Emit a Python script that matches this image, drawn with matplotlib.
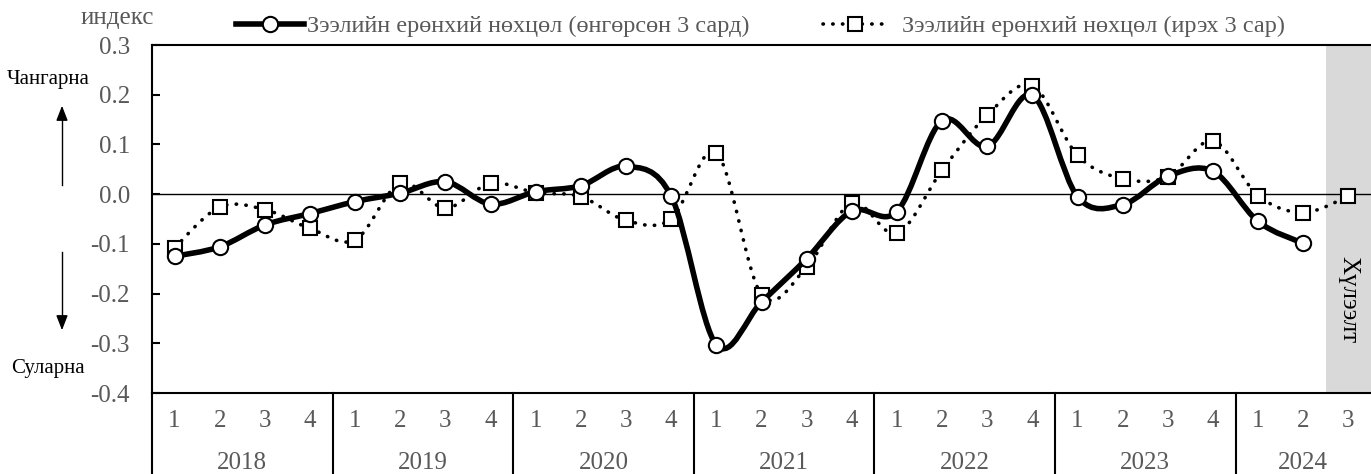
import numpy as np
import matplotlib.pyplot as plt
from matplotlib.path import Path
from matplotlib.patches import PathPatch
from matplotlib.lines import Line2D
import matplotlib.transforms as mtransforms

plt.rcParams['font.family'] = ['Liberation Serif', 'DejaVu Serif']

years = ['2018', '2019', '2020', '2021', '2022', '2023', '2024']
quarters = ['1', '2', '3', '4'] * 6 + ['1', '2', '3']
yticks = [-0.4, -0.3, -0.2, -0.1, 0.0, 0.1, 0.2, 0.3]

past_3m = [-0.125, -0.106, -0.062, -0.039, -0.015, 0.002, 0.025, -0.020,
           0.005, 0.017, 0.056, -0.004, -0.303, -0.217, -0.130, -0.034,
           -0.035, 0.148, 0.096, 0.199, -0.005, -0.021, 0.036, 0.046,
           -0.055, -0.099]
next_3m = [-0.108, -0.026, -0.031, -0.069, -0.092, 0.022, -0.028, 0.022,
           0.003, -0.005, -0.053, -0.050, 0.083, -0.202, -0.147, -0.018,
           -0.079, 0.048, 0.159, 0.218, 0.078, 0.031, 0.035, 0.107,
           -0.003, -0.037, -0.004]

label_past = 'Зээлийн ерөнхий нөхцөл (өнгөрсөн 3 сард)'
label_next = 'Зээлийн ерөнхий нөхцөл (ирэх 3 сар)'
gray = '#595959'
fs = 18


def smooth_path(x, y):
    # Excel-style smoothed line: cubic Bezier through every point
    pts = np.column_stack([x, y]).astype(float)
    verts = [pts[0]]
    codes = [Path.MOVETO]
    n = len(pts)
    for i in range(n - 1):
        p0 = pts[i - 1] if i > 0 else pts[i]
        p1 = pts[i]
        p2 = pts[i + 1]
        p3 = pts[i + 2] if i + 2 < n else pts[i + 1]
        c1 = p1 + (p2 - p0) / 6.0
        c2 = p2 - (p3 - p1) / 6.0
        verts += [c1, c2, p2]
        codes += [Path.CURVE4] * 3
    return Path(verts, codes)


fig = plt.figure(figsize=(13.71, 4.74), dpi=100)
ax = fig.add_axes([152 / 1371, 81 / 474, 1219 / 1371, 348 / 474])

n = len(quarters)
ax.set_xlim(-0.5, n - 0.5)
ax.set_ylim(-0.4, 0.3)

# forecast shading
ax.axvspan(n - 1.5, n - 0.5, color='#d9d9d9', zorder=0, lw=0)
ax.text(n - 1, -0.213, 'Хүлээлт', rotation=-90, ha='center', va='center',
        fontsize=fs, color='black')

ax.axhline(0, color='black', lw=1.0, zorder=1)

xp = np.arange(len(past_3m))
xn = np.arange(len(next_3m))

ax.add_patch(PathPatch(smooth_path(xn, next_3m), facecolor='none',
                       edgecolor='black', lw=2.6, linestyle=(0, (0.1, 2.6)),
                       capstyle='round', zorder=2))
ax.plot(xn, next_3m, linestyle='none', marker='s', markersize=10,
        markerfacecolor='white', markeredgecolor='black', markeredgewidth=1.5,
        zorder=3)

ax.add_patch(PathPatch(smooth_path(xp, past_3m), facecolor='none',
                       edgecolor='black', lw=4, capstyle='round', zorder=4))
ax.plot(xp, past_3m, linestyle='none', marker='o', markersize=11,
        markerfacecolor='white', markeredgecolor='black', markeredgewidth=1.5,
        zorder=5)

# axes styling
for s in ['left', 'top', 'bottom']:
    ax.spines[s].set_color('black')
    ax.spines[s].set_linewidth(1.5)
ax.spines['right'].set_visible(False)
ax.set_yticks(yticks)
ax.set_yticklabels([f'{v:.1f}' for v in yticks])
ax.tick_params(axis='y', direction='in', length=6, width=1.5, pad=16,
               labelsize=fs, labelcolor=gray)
ax.set_xticks([])

# two-level category axis
trans = mtransforms.blended_transform_factory(ax.transData, ax.transAxes)
for i, q in enumerate(quarters):
    ax.text(i, -0.08, q, transform=trans, ha='center', va='center',
            fontsize=fs, color=gray)
for k, yr in enumerate(years):
    start = 4 * k
    end = min(4 * k + 3, n - 1)
    ax.text((start + end) / 2, -0.2, yr, transform=trans, ha='center',
            va='center', fontsize=fs, color=gray)
    ax.plot([start - 0.5, start - 0.5], [0, -0.233], transform=trans,
            color='black', lw=1.5, clip_on=False)

# left annotations
fig.text(117 / 1371, 1 - 18 / 474, 'индекс', ha='center', va='center',
         fontsize=fs, color=gray)
fig.text(48 / 1371, 1 - 80 / 474, 'Чангарна', ha='center', va='center',
         fontsize=15, color='black')
fig.text(48 / 1371, 1 - 369 / 474, 'Суларна', ha='center', va='center',
         fontsize=15, color='black')
fig.add_artist(plt.Line2D([62 / 1371, 62 / 1371], [1 - 185 / 474, 1 - 118 / 474],
                          color='black', lw=1))
fig.add_artist(plt.Line2D([62 / 1371, 62 / 1371], [1 - 252 / 474, 1 - 318 / 474],
                          color='black', lw=1))
ax.annotate('', xy=(62 / 1371, 1 - 103 / 474), xytext=(62 / 1371, 1 - 120 / 474),
            xycoords='figure fraction', textcoords='figure fraction',
            arrowprops=dict(arrowstyle='-|>,head_width=0.35,head_length=0.9',
                            color='black', lw=1))
ax.annotate('', xy=(62 / 1371, 1 - 333 / 474), xytext=(62 / 1371, 1 - 316 / 474),
            xycoords='figure fraction', textcoords='figure fraction',
            arrowprops=dict(arrowstyle='-|>,head_width=0.35,head_length=0.9',
                            color='black', lw=1))

# legend (two entries placed separately)
h1 = Line2D([], [], color='black', lw=4, marker='o', markersize=11,
            markerfacecolor='white', markeredgecolor='black', markeredgewidth=1.5)
h2 = Line2D([], [], color='black', lw=2.6, linestyle=(0, (0.1, 2.6)),
            dash_capstyle='round', marker='s', markersize=10,
            markerfacecolor='white', markeredgecolor='black', markeredgewidth=1.5)
leg_y = 1 + 19 / 348
leg1 = ax.legend([h1], [label_past], loc='center left',
                 bbox_to_anchor=((236 - 152) / 1219, leg_y), frameon=False,
                 fontsize=17.5, handlelength=2.8, handletextpad=0.12,
                 borderpad=0, borderaxespad=0)
for t in leg1.get_texts():
    t.set_color(gray)
ax.add_artist(leg1)
leg2 = ax.legend([h2], [label_next], loc='center left',
                 bbox_to_anchor=((823 - 152) / 1219, leg_y), frameon=False,
                 fontsize=17.5, handlelength=2.6, handletextpad=0.65,
                 borderpad=0, borderaxespad=0)
for t in leg2.get_texts():
    t.set_color(gray)

fig.savefig('out.png', dpi=100)
